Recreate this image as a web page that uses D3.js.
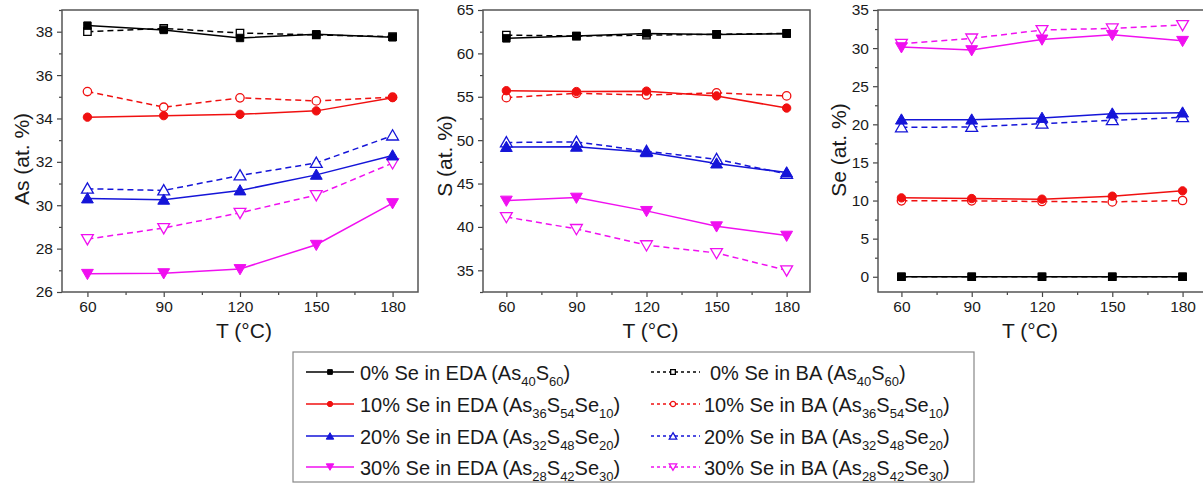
<!DOCTYPE html>
<html><head><meta charset="utf-8">
<script src="https://cdn.jsdelivr.net/npm/d3@7"></script>
<style>
body{margin:0;background:#fff}
text{font-family:"Liberation Sans",Arial,sans-serif;fill:#1a1a1a}
</style>
</head><body>
<svg id="c" width="1203" height="484"></svg>
<script>
// ---------- DATA ----------
const temps = [60, 90, 120, 150, 180];
const xTicks = [60, 90, 120, 150, 180];

// As (at. %)
const asEDA0  = [38.28, 38.08, 37.71, 37.88, 37.74];
const asBA0   = [38.00, 38.15, 37.94, 37.85, 37.77];
const asEDA10 = [34.06, 34.13, 34.19, 34.35, 34.96];
const asBA10  = [35.24, 34.52, 34.95, 34.81, 34.98];
const asEDA20 = [30.31, 30.25, 30.68, 31.40, 32.29];
const asBA20  = [30.76, 30.68, 31.37, 31.95, 33.21];
const asEDA30 = [26.84, 26.87, 27.06, 28.18, 30.10];
const asBA30  = [28.44, 28.95, 29.65, 30.47, 31.94];
const asTicks = [26, 28, 30, 32, 34, 36, 38];

// S (at. %)
const sEDA0  = [61.73, 62.00, 62.30, 62.19, 62.27];
const sBA0   = [62.10, 62.00, 62.10, 62.20, 62.30];
const sEDA10 = [55.70, 55.60, 55.65, 55.10, 53.70];
const sBA10  = [54.90, 55.40, 55.20, 55.45, 55.10];
const sEDA20 = [49.20, 49.23, 48.60, 47.30, 46.27];
const sBA20  = [49.73, 49.80, 48.73, 47.80, 46.10];
const sEDA30 = [43.04, 43.38, 41.85, 40.08, 39.00];
const sBA30  = [41.15, 39.77, 37.90, 37.00, 35.00];
const sTicks = [35, 40, 45, 50, 55, 60, 65];

// Se (at. %)
const seEDA0  = [0, 0, 0, 0, 0];
const seBA0   = [0, 0, 0, 0, 0];
const seEDA10 = [10.35, 10.26, 10.18, 10.57, 11.27];
const seBA10  = [9.96, 9.96, 9.87, 9.82, 10.00];
const seEDA20 = [20.61, 20.61, 20.83, 21.40, 21.53];
const seBA20  = [19.60, 19.65, 20.09, 20.53, 20.92];
const seEDA30 = [30.13, 29.74, 31.14, 31.75, 30.96];
const seBA30  = [30.57, 31.27, 32.37, 32.59, 33.03];
const seTicks = [0, 5, 10, 15, 20, 25, 30, 35];

const seLevels = ["0%", "10%", "20%", "30%"];
const formulas = [
  [["As","40"],["S","60"]],
  [["As","36"],["S","54"],["Se","10"]],
  [["As","32"],["S","48"],["Se","20"]],
  [["As","28"],["S","42"],["Se","30"]]
];

// ---------- STYLE ----------
const colors = ["#000000", "#f01010", "#1515d8", "#f010f0"];
const shapes = ["square", "circle", "up", "down"];
const FONT = '"Liberation Sans",Arial,sans-serif';

const svg = d3.select("#c");

const panels = [
  {x0:62,  x1:418,  y0:10, y1:292, ydom:[26,39],   ticks:asTicks, minor:1,   title:"As (at. %)", tx:21, ty:159,
   eda:[asEDA0,asEDA10,asEDA20,asEDA30], ba:[asBA0,asBA10,asBA20,asBA30]},
  {x0:483, x1:810,  y0:10, y1:292, ydom:[32.5,65], ticks:sTicks,  minor:2.5, title:"S (at. %)",  tx:444, ty:156,
   eda:[sEDA0,sEDA10,sEDA20,sEDA30], ba:[sBA0,sBA10,sBA20,sBA30]},
  {x0:878, x1:1206, y0:10, y1:292, ydom:[-2,35],   ticks:seTicks, minor:2.5, title:"Se (at. %)", tx:838, ty:150,
   eda:[seEDA0,seEDA10,seEDA20,seEDA30], ba:[seBA0,seBA10,seBA20,seBA30]}
];

function symbolPath(shape, size){
  if (shape === "square") return d3.symbol(d3.symbolSquare, size)();
  if (shape === "circle") return d3.symbol(d3.symbolCircle, size)();
  return d3.symbol(d3.symbolTriangle, size * 1.1)();
}
function drawMarker(g, shape, x, y, color, filled, size){
  const rot = shape === "down" ? 180 : 0;
  const dy = shape === "up" ? 1 : (shape === "down" ? -1 : 0);
  g.append("path")
    .attr("d", symbolPath(shape, size))
    .attr("transform", `translate(${x},${y + dy}) rotate(${rot})`)
    .attr("fill", filled ? color : "#fff")
    .attr("stroke", color)
    .attr("stroke-width", filled ? 1 : 1.3);
}

panels.forEach(p => {
  const x = d3.scaleLinear().domain([50,190]).range([p.x0, p.x1]);
  const y = d3.scaleLinear().domain(p.ydom).range([p.y1, p.y0]);
  const g = svg.append("g");

  const xMinor = d3.range(45, 195, 15).filter(v => v > 50 && v < 190 && !xTicks.includes(v));
  const yMinor = d3.range(Math.ceil(p.ydom[0]/p.minor)*p.minor, p.ydom[1] + 1e-9, p.minor)
                  .filter(v => !p.ticks.includes(v));

  const xAxis = d3.axisBottom(x).tickValues(xTicks).tickSize(5).tickPadding(4).tickSizeOuter(0);
  const xAxisMinor = d3.axisBottom(x).tickValues(xMinor).tickSize(3).tickFormat("").tickSizeOuter(0);
  const yAxis = d3.axisLeft(y).tickValues(p.ticks).tickSize(5).tickPadding(4).tickSizeOuter(0);
  const yAxisMinor = d3.axisLeft(y).tickValues(yMinor).tickSize(3).tickFormat("").tickSizeOuter(0);

  const axes = [
    g.append("g").attr("transform", `translate(0,${p.y1})`).call(xAxis),
    g.append("g").attr("transform", `translate(0,${p.y1})`).call(xAxisMinor),
    g.append("g").attr("transform", `translate(${p.x0},0)`).call(yAxis),
    g.append("g").attr("transform", `translate(${p.x0},0)`).call(yAxisMinor)
  ];
  axes.forEach(a => {
    a.select(".domain").remove();
    a.selectAll("line").attr("stroke", "#444").attr("stroke-width", 1.2);
    a.selectAll("text").style("font-size", "15.5px").style("font-family", FONT).attr("fill", "#1a1a1a");
  });

  g.append("rect").attr("x", p.x0).attr("y", p.y0)
    .attr("width", p.x1 - p.x0).attr("height", p.y1 - p.y0)
    .attr("fill", "none").attr("stroke", "#555").attr("stroke-width", 1.5);

  g.append("text").attr("transform", `translate(${p.tx},${p.ty}) rotate(-90)`)
    .attr("text-anchor", "middle").attr("dominant-baseline", "central")
    .style("font-size", "21px").text(p.title);
  g.append("text").attr("x", (p.x0 + p.x1) / 2 + ((p.x1 > 1203) ? -12 : 4)).attr("y", 338)
    .attr("text-anchor", "middle").style("font-size", "21px").text("T (°C)");

  const line = d3.line().x((d,i) => x(temps[i])).y(d => y(d));

  [3,2,1,0].forEach(k => {
    g.append("path").datum(p.ba[k]).attr("d", line)
      .attr("fill", "none").attr("stroke", colors[k]).attr("stroke-width", 1.5)
      .attr("stroke-dasharray", "6,4");
    g.append("path").datum(p.eda[k]).attr("d", line)
      .attr("fill", "none").attr("stroke", colors[k]).attr("stroke-width", 1.5);
  });
  [3,2,1,0].forEach(k => {
    p.ba[k].forEach((v,i) => drawMarker(g, shapes[k], x(temps[i]), y(v), colors[k], false, 55));
    p.eda[k].forEach((v,i) => drawMarker(g, shapes[k], x(temps[i]), y(v), colors[k], true, 55));
  });
});

// ---------- LEGEND ----------
const lg = svg.append("g");
lg.append("rect").attr("x", 293).attr("y", 352).attr("width", 681).attr("height", 130)
  .attr("fill", "#fff").attr("stroke", "#888").attr("stroke-width", 1.2);

const rowY = [372, 404, 436, 467];
const cols = [
  {lx0:306, lx1:354, mx:330, tx:360, kind:"EDA", dash:null,  filled:true},
  {lx0:651, lx1:700, mx:673, tx:704, kind:"BA",  dash:"3,3", filled:false}
];
cols.forEach(c => {
  seLevels.forEach((lev, k) => {
    const yy = rowY[k];
    const ln = lg.append("line").attr("x1", c.lx0).attr("x2", c.lx1).attr("y1", yy).attr("y2", yy)
      .attr("stroke", colors[k]).attr("stroke-width", 1.3);
    if (c.dash) ln.attr("stroke-dasharray", c.dash);
    drawMarker(lg, shapes[k], c.mx, yy, colors[k], c.filled, 22);
    const t = lg.append("text").attr("x", c.tx + (k === 0 && c.kind === "BA" ? 6 : 0)).attr("y", yy + 8)
      .style("font-size", "20px");
    t.append("tspan").text(`${lev} Se in ${c.kind} (`);
    let shifted = false;
    formulas[k].forEach(([el, n]) => {
      t.append("tspan").text(el).attr("dy", shifted ? -6 : 0).style("font-size", "20px");
      t.append("tspan").text(n).attr("dy", 6).style("font-size", "13px");
      shifted = true;
    });
    t.append("tspan").text(")").attr("dy", -6).style("font-size", "20px");
  });
});
</script>
</body></html>
